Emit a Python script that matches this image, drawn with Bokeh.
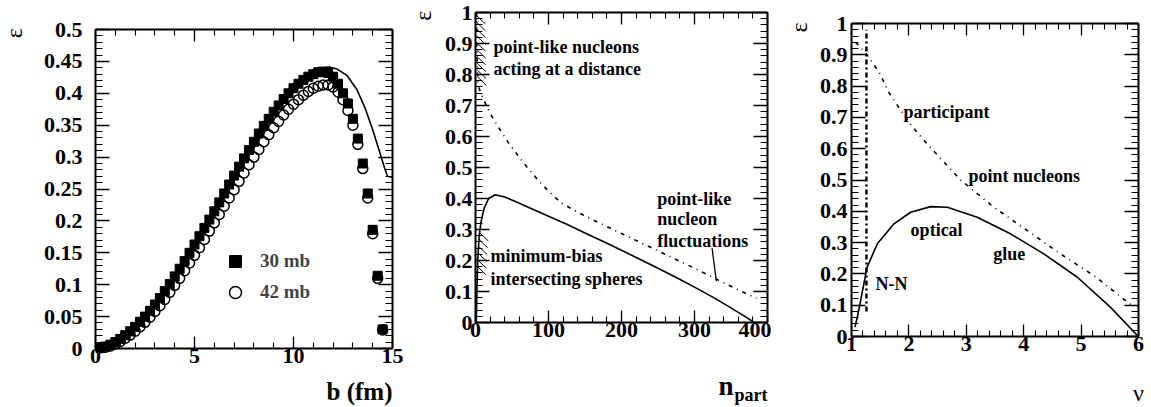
import math
from bokeh.plotting import figure
from bokeh.layouts import row
from bokeh.models import (LinearAxis, SingleIntervalTicker, Range1d, Label,
                          Legend, LegendItem, CustomJSTickFormatter)
from bokeh.embed import file_html
from bokeh.resources import INLINE

SERIF = "Liberation Serif"

# ---------------- panel 1 : eccentricity vs impact parameter ----------------
b_fm = [0.25, 0.5, 0.75, 1.0, 1.25, 1.5, 1.75, 2.0, 2.25, 2.5, 2.75, 3.0, 3.25, 3.5,
        3.75, 4.0, 4.25, 4.5, 4.75, 5.0, 5.25, 5.5, 5.75, 6.0, 6.25, 6.5, 6.75, 7.0,
        7.25, 7.5, 7.75, 8.0, 8.25, 8.5, 8.75, 9.0, 9.25, 9.5, 9.75, 10.0, 10.25, 10.5,
        10.75, 11.0, 11.25, 11.5, 11.75, 12.0, 12.25, 12.5, 12.75, 13.0, 13.25, 13.5,
        13.75, 14.0, 14.25, 14.5]
eps_30mb = [0.001, 0.003, 0.006, 0.010, 0.015, 0.021, 0.027, 0.034, 0.042, 0.050, 0.059,
            0.069, 0.079, 0.090, 0.101, 0.113, 0.125, 0.137, 0.150, 0.163, 0.176, 0.189,
            0.202, 0.215, 0.229, 0.243, 0.257, 0.271, 0.285, 0.298, 0.311, 0.324, 0.337,
            0.349, 0.360, 0.371, 0.381, 0.391, 0.400, 0.408, 0.415, 0.421, 0.426, 0.430,
            0.433, 0.434, 0.432, 0.426, 0.415, 0.400, 0.384, 0.360, 0.329, 0.290, 0.243,
            0.186, 0.114, 0.030]
eps_42mb = [0.001, 0.002, 0.004, 0.007, 0.011, 0.016, 0.021, 0.027, 0.034, 0.041, 0.049,
            0.058, 0.067, 0.077, 0.088, 0.099, 0.110, 0.122, 0.134, 0.146, 0.158, 0.171,
            0.184, 0.197, 0.210, 0.223, 0.236, 0.249, 0.262, 0.275, 0.288, 0.300, 0.312,
            0.324, 0.335, 0.346, 0.356, 0.366, 0.375, 0.383, 0.390, 0.397, 0.403, 0.408,
            0.411, 0.413, 0.413, 0.410, 0.402, 0.390, 0.373, 0.350, 0.320, 0.282, 0.236,
            0.180, 0.110, 0.029]
b_curve = [0, 1, 2, 3, 4, 5, 6, 7, 8, 9, 10, 10.5, 11, 11.5, 11.8, 12.2, 12.7, 13.2,
           13.6, 14.0, 14.3, 14.6, 14.75, 15.0]
eps_curve = [0, 0.010, 0.034, 0.069, 0.113, 0.163, 0.215, 0.271, 0.324, 0.371, 0.410,
             0.424, 0.434, 0.440, 0.441, 0.438, 0.428, 0.406, 0.378, 0.343, 0.313, 0.283,
             0.270, 0.268]
legend_labels = ["30 mb", "42 mb"]

# ---------------- panel 2 : eccentricity vs n_part ----------------
npart_solid = [1, 2, 3, 5, 8, 12, 18, 27, 40, 60, 80, 100, 125, 150, 175, 200, 225, 250,
               275, 300, 325, 350, 370, 382]
eps_npart_solid = [0.0, 0.10, 0.20, 0.28, 0.33, 0.37, 0.40, 0.412, 0.405, 0.385, 0.364,
                   0.343, 0.317, 0.289, 0.261, 0.233, 0.204, 0.175, 0.145, 0.114, 0.082,
                   0.047, 0.018, 0.0]
npart_dashdot = [1.5, 2, 3, 5, 10, 20, 30, 45, 60, 70, 85, 100, 116, 135, 160, 200, 250,
                 300, 330, 360, 385]
eps_npart_dashdot = [1.0, 0.86, 0.78, 0.755, 0.725, 0.675, 0.635, 0.58, 0.533, 0.503,
                     0.461, 0.424, 0.388, 0.362, 0.332, 0.287, 0.231, 0.175, 0.140, 0.105,
                     0.078]
hatch_top_eps = [0.99, 0.968, 0.946, 0.924, 0.902, 0.880, 0.858, 0.836, 0.814, 0.792]
hatch_bottom_eps = [0.29, 0.268, 0.246, 0.224, 0.202, 0.180]
pointer_n = [324, 330]
pointer_eps = [0.241, 0.133]

# ---------------- panel 3 : eccentricity vs nu ----------------
nu_solid = [1.06, 1.1, 1.16, 1.27, 1.45, 1.74, 2.03, 2.38, 2.67, 3.19, 3.77, 4.35, 4.93,
            5.51, 5.98]
eps_nu_solid = [0.03, 0.06, 0.115, 0.221, 0.296, 0.36, 0.397, 0.415, 0.413, 0.381, 0.328,
                0.264, 0.19, 0.094, 0.003]
nu_dashdot = [1.07, 1.24, 1.48, 1.65, 1.85, 2.06, 2.32, 2.9, 3.48, 4.06, 4.64, 5.22, 5.92]
eps_nu_dashdot = [0.94, 0.908, 0.845, 0.78, 0.725, 0.67, 0.615, 0.50, 0.413, 0.339, 0.264,
                  0.195, 0.094]
nu_nn = [1.26, 1.26]
eps_nn = [0.08, 0.98]

FMT_JS = "return Number(tick.toFixed(4)).toString();"
CANVAS_H = 406


def make_fig(W, box, xlim, ylim, xint, yint, ystandoff, xtick=12, ytick=14):
    """box = (left, right, top, bottom) in canvas pixels of the axes frame."""
    L, R, T, B = box
    sx = (xlim[1] - xlim[0]) / (R - L)
    sy = (ylim[1] - ylim[0]) / (B - T)
    xr = Range1d(xlim[0] - L * sx, xlim[1] + (W - R) * sx)
    yr = Range1d(ylim[0] - (CANVAS_H - B) * sy, ylim[1] + T * sy)
    p = figure(width=W, height=CANVAS_H, x_range=xr, y_range=yr,
               x_axis_location=None, y_axis_location=None,
               output_backend="svg", toolbar_location=None,
               min_border_left=0, min_border_right=0, min_border_top=0,
               min_border_bottom=0, background_fill_color="white",
               border_fill_color="white", outline_line_color=None)
    p.grid.visible = False
    specs = [("below", xlim, ylim[0], xint, xtick, True),
             ("above", xlim, ylim[1], xint, xtick, False),
             ("left", ylim, xlim[0], yint, ytick, True),
             ("right", ylim, xlim[1], yint, ytick, False)]
    for side, bnds, fixed, iv, tlen, labels in specs:
        ax = LinearAxis(fixed_location=fixed, bounds=bnds,
                        ticker=SingleIntervalTicker(interval=iv, num_minor_ticks=5),
                        formatter=CustomJSTickFormatter(code=FMT_JS if labels else "return '';"),
                        axis_line_width=2, axis_line_color="black",
                        major_tick_in=tlen, major_tick_out=0,
                        minor_tick_in=tlen // 2, minor_tick_out=0,
                        major_tick_line_width=1.3, minor_tick_line_width=1.1,
                        major_label_text_font=SERIF,
                        major_label_text_font_style="bold",
                        major_label_text_font_size="22px" if labels else "0px",
                        major_label_text_color="black")
        if side == "left":
            ax.major_label_standoff = ystandoff
        else:
            ax.major_label_standoff = 0
        p.add_layout(ax, side)
    return p


def txt(p, x, y, s, size="18px", align="left", baseline="middle", bold=True, angle=0.0):
    p.add_layout(Label(x=x, y=y, text=s, text_font=SERIF, text_font_size=size,
                       text_font_style="bold" if bold else "normal", text_align=align,
                       text_baseline=baseline, text_color="black", angle=angle))


def interp(x, xs, ys):
    for i in range(len(xs) - 1):
        if xs[i] <= x <= xs[i + 1]:
            t = (x - xs[i]) / (xs[i + 1] - xs[i])
            return ys[i] + t * (ys[i + 1] - ys[i])
    return ys[0] if x < xs[0] else ys[-1]


# ---------------- panel 1 ----------------
p1 = make_fig(408, (95, 392, 29, 348), (0, 15), (0, 0.5), 5, 0.05, 13)
p1.line(b_curve, eps_curve, line_color="black", line_width=1.6)
r_sq = p1.scatter(b_fm, eps_30mb, marker="square", size=9, fill_color="black",
                  line_color="black")
r_ci = p1.scatter(b_fm, eps_42mb, marker="circle", size=10, fill_color=None,
                  line_color="black", line_width=1.5)
leg = Legend(items=[LegendItem(label=legend_labels[0], renderers=[r_sq]),
                    LegendItem(label=legend_labels[1], renderers=[r_ci])],
             location=(220, 99), glyph_width=30, glyph_height=30, spacing=1,
             padding=0, margin=0, label_standoff=10, border_line_color=None,
             background_fill_alpha=0, label_text_font=SERIF,
             label_text_font_style="bold", label_text_font_size="19px",
             label_text_baseline="middle")
p1.add_layout(leg)
txt(p1, -4.14, 0.494, "ε", size="24px", align="center", bold=False, angle=math.pi / 2)
txt(p1, 15.0, -0.067, "b (fm)", size="25px", align="right")

# ---------------- panel 2 ----------------
p2 = make_fig(363, (67, 359, 12, 322), (0, 400), (0, 1), 100, 0.1, 3)
p2.line(npart_solid, eps_npart_solid, line_color="black", line_width=1.6)
p2.line(npart_dashdot, eps_npart_dashdot, line_color="black", line_width=1.6,
        line_dash="4 5 1 5")
top_steep_e = eps_npart_dashdot[:4][::-1]
top_steep_n = npart_dashdot[:4][::-1]
bot_steep_e = eps_npart_solid[:8]
bot_steep_n = npart_solid[:8]
hx0, hy0, hx1, hy1 = [], [], [], []
for e in hatch_top_eps:
    n0 = interp(e, top_steep_e, top_steep_n)
    hx0.append(n0); hy0.append(e); hx1.append(n0 + 12); hy1.append(e - 0.027)
for e in hatch_bottom_eps:
    n0 = interp(e, bot_steep_e, bot_steep_n)
    hx0.append(n0); hy0.append(e); hx1.append(n0 + 12); hy1.append(e - 0.027)
p2.segment(hx0, hy0, hx1, hy1, line_color="black", line_width=1)
p2.line(pointer_n, pointer_eps, line_color="black", line_width=1.3)
txt(p2, 24.7, 0.888, "point-like nucleons")
txt(p2, 24.7, 0.817, "acting at a distance")
txt(p2, 249, 0.400, "point-like")
txt(p2, 249, 0.333, "nucleon")
txt(p2, 249, 0.263, "fluctuations")
txt(p2, 20.5, 0.215, "minimum-bias")
txt(p2, 20.5, 0.141, "intersecting spheres")
txt(p2, -72, 0.990, "ε", size="24px", align="center", bold=False, angle=math.pi / 2)
txt(p2, 353.4, -0.205, "n", size="27px", align="right")
txt(p2, 354.8, -0.234, "part", size="18px", align="left")

# ---------------- panel 3 ----------------
p3 = make_fig(379, (80, 367, 23, 336), (1, 6), (0, 1), 1, 0.1, 4)
p3.line(nu_solid, eps_nu_solid, line_color="black", line_width=1.6)
p3.line(nu_dashdot, eps_nu_dashdot, line_color="black", line_width=1.6,
        line_dash="4 5 1 5")
p3.line(nu_nn, eps_nn, line_color="black", line_width=2.5, line_dash="5 3 2 3")
txt(p3, 1.906, 0.716, "participant")
txt(p3, 3.04, 0.514, "point nucleons")
txt(p3, 2.03, 0.339, "optical")
txt(p3, 3.47, 0.265, "glue")
txt(p3, 1.42, 0.169, "N-N")
txt(p3, 0.094, 0.987, "ε", size="24px", align="center", bold=False, angle=math.pi / 2)
txt(p3, 6.0, -0.180, "ν", size="24px", align="center", bold=False)

layout = row(p1, p2, p3)
open("out.html", "w").write(file_html(layout, INLINE))
